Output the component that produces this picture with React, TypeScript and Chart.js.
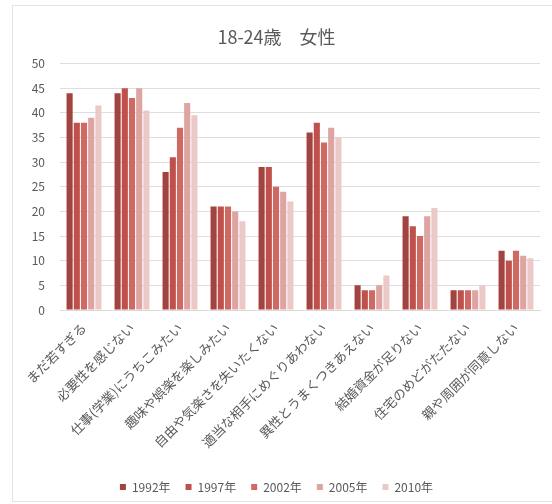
import React, { useEffect, useRef } from "react";
import { Chart, registerables } from "chart.js";

Chart.register(...registerables);

const categories = [
  "まだ若すぎる",
  "必要性を感じない",
  "仕事(学業)にうちこみたい",
  "趣味や娯楽を楽しみたい",
  "自由や気楽さを失いたくない",
  "適当な相手にめぐりあわない",
  "異性とうまくつきあえない",
  "結婚資金が足りない",
  "住宅のめどがたたない",
  "親や周囲が同意しない",
];

const seriesNames = ["1992年", "1997年", "2002年", "2005年", "2010年"];

const values1992 = [44, 44, 28, 21, 29, 36, 5, 19, 4, 12];
const values1997 = [38, 45, 31, 21, 29, 38, 4, 17, 4, 10];
const values2002 = [38, 43, 37, 21, 25, 34, 4, 15, 4, 12];
const values2005 = [39, 45, 42, 20, 24, 37, 5, 19, 4, 11];
const values2010 = [41.5, 40.5, 39.5, 18, 22, 35, 7, 20.7, 5, 10.5];

const yTicks = [0, 5, 10, 15, 20, 25, 30, 35, 40, 45, 50];

const seriesColors = ["#a3433f", "#bf504c", "#d06864", "#dea4a2", "#ecc9c9"];

const FONT = '"Noto Sans CJK JP", "Noto Sans", sans-serif';

export default function App() {
  const ref = useRef<HTMLCanvasElement | null>(null);

  useEffect(() => {
    if (!ref.current) return;
    const allSeries = [values1992, values1997, values2002, values2005, values2010];
    const chart = new Chart(ref.current, {
      type: "bar",
      data: {
        labels: categories,
        datasets: allSeries.map((vals, i) => ({
          label: seriesNames[i],
          data: vals,
          backgroundColor: seriesColors[i],
          borderWidth: 0,
          categoryPercentage: 0.75,
          barPercentage: 0.85,
        })),
      },
      options: {
        animation: false,
        responsive: false,
        maintainAspectRatio: false,
        layout: { padding: { left: 0, right: 21, top: 0, bottom: 0 } },
        plugins: {
          title: {
            display: true,
            text: "18-24歳　女性",
            color: "#595959",
            font: { family: FONT, size: 18, weight: "normal" },
            padding: { top: 20, bottom: 16 },
          },
          legend: {
            display: true,
            position: "bottom",
            labels: {
              boxWidth: 6,
              boxHeight: 6,
              padding: 15,
              color: "#595959",
              font: { family: FONT, size: 12 },
            },
          },
          tooltip: { enabled: false },
        },
        scales: {
          x: {
            grid: { display: false, drawTicks: false },
            border: { display: true, color: "#d9d9d9" },
            ticks: {
              color: "#595959",
              font: { family: FONT, size: 13 },
              minRotation: 45,
              maxRotation: 45,
              autoSkip: false,
              padding: 10,
            },
            afterFit: (scale: any) => {
              scale.height = 156;
            },
          },
          y: {
            min: 0,
            max: 50,
            afterBuildTicks: (scale: any) => {
              scale.ticks = yTicks.map((v) => ({ value: v }));
            },
            grid: { color: "#dedede", drawTicks: false },
            border: { display: false },
            ticks: {
              color: "#595959",
              font: { family: FONT, size: 12 },
              padding: 15,
            },
            afterFit: (scale: any) => {
              scale.width = 47;
            },
          },
        },
      },
    });
    return () => chart.destroy();
  }, []);

  return (
    <div style={{ position: "fixed", left: 0, top: 0, width: 552, height: 504, overflow: "hidden", background: "#fff" }}>
      <div
        style={{
          position: "absolute",
          left: 12,
          top: 5,
          width: 550,
          height: 497,
          border: "1px solid #e3e3e3",
          boxSizing: "border-box",
          overflow: "hidden",
          background: "#fff",
        }}
      >
        <canvas ref={ref} width={548} height={497} style={{ display: "block", width: 548, height: 497 }} />
      </div>
    </div>
  );
}
